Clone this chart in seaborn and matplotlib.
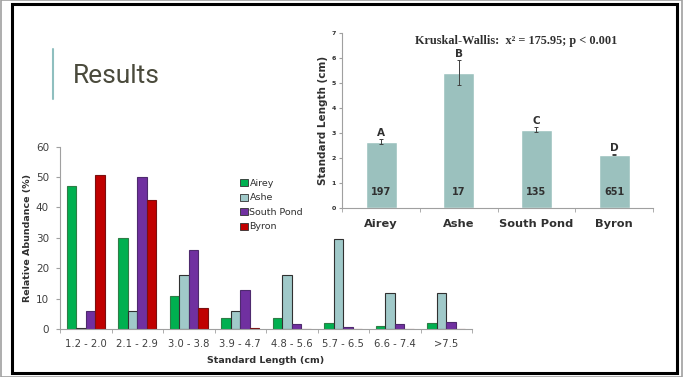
import matplotlib
matplotlib.use("Agg")
import matplotlib.pyplot as plt
import seaborn as sns
import pandas as pd
import numpy as np
from matplotlib.patches import Rectangle
from matplotlib.lines import Line2D

# ---- data ----
bins = ["1.2 - 2.0", "2.1 - 2.9", "3.0 - 3.8", "3.9 - 4.7", "4.8 - 5.6", "5.7 - 6.5", "6.6 - 7.4", ">7.5"]
sites = ["Airey", "Ashe", "South Pond", "Byron"]
airey = [47, 30, 11, 3.5, 3.5, 2, 1, 2]
ashe = [0.2, 6, 17.7, 6, 17.7, 29.5, 11.8, 11.8]
south_pond = [6, 50, 26, 12.7, 1.5, 0.8, 1.5, 2.3]
byron = [50.8, 42.5, 7, 0.2, 0, 0, 0, 0]

mean_len = [2.64, 5.42, 3.13, 2.12]
err_len = [0.1, 0.5, 0.1, 0.02]
group_letters = ["A", "B", "C", "D"]
counts = ["197", "17", "135", "651"]

site_colors = {"Airey": "#00B050", "Ashe": "#A0C9C9", "South Pond": "#7030A0", "Byron": "#C00000"}
edge_colors = {"Airey": "#2E7D46", "Ashe": "#303030", "South Pond": "#4E2A6E", "Byron": "#7A1010"}

sns.set_style("white")
plt.rcParams["font.family"] = ["DejaVu Sans"]

fig = plt.figure(figsize=(6.83, 3.77), dpi=100)

# slide frame
fig.patches.append(Rectangle((0.001, 0.001), 0.998, 0.998, transform=fig.transFigure,
                             fill=False, edgecolor="#A0A0A0", linewidth=1.2))
fig.patches.append(Rectangle((12/683, 1-373/377), (677-12)/683, (373-4)/377, transform=fig.transFigure,
                             fill=False, edgecolor="black", linewidth=2.2))

# Results title
fig.add_artist(Line2D([53/683, 53/683], [1-49/377, 1-99/377], transform=fig.transFigure,
                      color="#8FBFBF", linewidth=1.5))
fig.text(73/683, 1-76/377, "Results", fontsize=19, color="#4A4A3C", va="center", ha="left",
         family=["Roboto", "DejaVu Sans"])

# ---- left chart ----
df = pd.DataFrame({
    "bin": bins * 4,
    "site": [s for s in sites for _ in bins],
    "pct": airey + ashe + south_pond + byron,
})
ax1 = fig.add_axes([60/683, 1-329/377, (472-60)/683, (329-146.7)/377])
ax1.patch.set_alpha(0)
sns.barplot(data=df, x="bin", y="pct", hue="site", palette=site_colors, width=0.74,
            ax=ax1, legend=False, saturation=1)
for i, cont in enumerate(ax1.containers):
    for p in cont.patches:
        p.set_edgecolor(edge_colors[sites[i]])
        p.set_linewidth(0.8)
ax1.set_xlim(-0.5, 7.5)
ax1.set_ylim(0, 60)
ax1.set_yticks([0, 10, 20, 30, 40, 50, 60])
ax1.set_xticks(range(8))
ax1.set_xticklabels(bins)
ax1.set_xticks(np.arange(-0.5, 8, 1), minor=True)
ax1.tick_params(axis="x", which="major", length=0, labelsize=7.2, colors="#404040", pad=7)
ax1.tick_params(axis="x", which="minor", length=3, color="#A0A0A0", bottom=True)
ax1.tick_params(axis="y", length=3, color="#A0A0A0", labelsize=7.5, colors="#404040", left=True, pad=5)
for s in ["top", "right"]:
    ax1.spines[s].set_visible(False)
for s in ["left", "bottom"]:
    ax1.spines[s].set_color("#A0A0A0")
    ax1.spines[s].set_linewidth(0.8)
ax1.set_xlabel("Standard Length (cm)", fontsize=6.8, fontweight="bold", color="#303030", labelpad=5)
ax1.set_ylabel("Relative Abundance (%)", fontsize=6.8, fontweight="bold", color="#303030", labelpad=3)

handles = [Rectangle((0, 0), 1, 1, facecolor=site_colors[s], edgecolor="#303030", linewidth=0.6) for s in sites]
fig.legend(handles, sites, loc="upper left", bbox_to_anchor=(240/683, 1-179/377), frameon=False,
           fontsize=6.8, handlelength=0.8, handleheight=0.8, handletextpad=0.2, labelspacing=0.58,
           borderaxespad=0, borderpad=0, labelcolor="#303030")

# ---- right chart ----
ax2 = fig.add_axes([342.3/683, 1-207.7/377, (653-342.3)/683, (207.7-33.3)/377])
ax2.patch.set_alpha(0)
sns.barplot(x=sites, y=mean_len, color="#9BC1BE", width=0.4, saturation=1, ax=ax2)
ax2.errorbar(range(4), mean_len, yerr=err_len, fmt="none", ecolor="#404040", elinewidth=0.7,
             capsize=1.5, capthick=0.7)
for i in range(4):
    ax2.text(i, mean_len[i] + err_len[i] + 0.06, group_letters[i], ha="center", va="bottom",
             fontsize=7.5, fontweight="bold", color="#303030")
    ax2.text(i, 0.65, counts[i], ha="center", va="center", fontsize=7, fontweight="bold", color="#303030")
ax2.set_xlim(-0.5, 3.5)
ax2.set_ylim(0, 7)
ax2.set_yticks(range(8))
ax2.set_xticks(np.arange(-0.5, 4, 1), minor=True)
ax2.tick_params(axis="x", which="major", length=0, labelsize=8.2, colors="#303030", pad=8)
ax2.tick_params(axis="x", which="minor", length=3, color="#A0A0A0", bottom=True)
ax2.tick_params(axis="y", length=2.5, color="#A0A0A0", labelsize=4.5, colors="#303030", left=True, pad=2)
for lab in ax2.get_xticklabels() + ax2.get_yticklabels():
    lab.set_fontweight("bold")
for s in ["top", "right"]:
    ax2.spines[s].set_visible(False)
for s in ["left", "bottom"]:
    ax2.spines[s].set_color("#A0A0A0")
    ax2.spines[s].set_linewidth(0.8)
ax2.set_ylabel("Standard Length (cm)", fontsize=7.5, fontweight="bold", color="#303030", labelpad=3)
ax2.set_title("Kruskal-Wallis:  x² = 175.95; p < 0.001", fontsize=8.8, fontweight="bold",
              family=["Liberation Serif", "DejaVu Serif"], color="#303030", x=0.56, y=0.89)

fig.savefig("out.png", dpi=100)
